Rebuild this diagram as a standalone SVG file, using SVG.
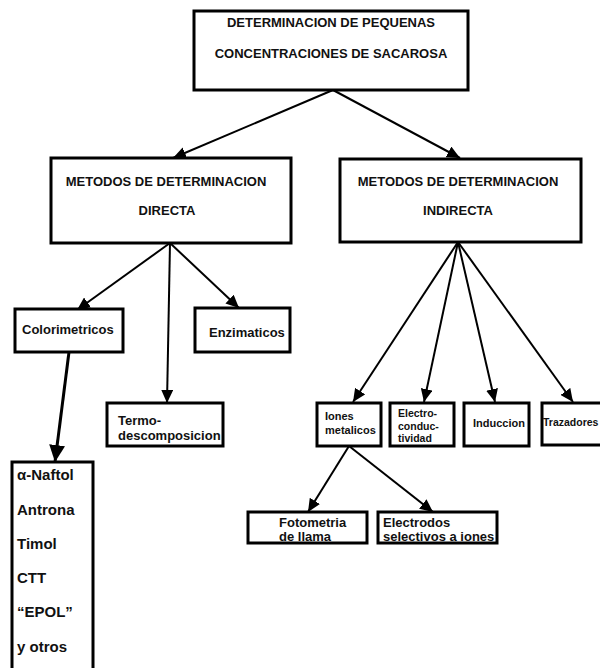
<svg xmlns="http://www.w3.org/2000/svg" width="600" height="668" viewBox="0 0 600 668">
<style>
.box{fill:#fff;stroke:#000;stroke-width:3}
.t{font-family:"Liberation Sans",Arial,sans-serif;font-weight:bold;fill:#111}
.big{font-size:13px}
.mid{font-size:13px}
.sm{font-size:11px}
.xs{font-size:10.5px}
.lst{font-size:15px}
.c{stroke:#000;stroke-width:2;fill:none}
.c3{stroke:#000;stroke-width:3;fill:none}
</style>
<defs>
<marker id="ah" markerUnits="userSpaceOnUse" markerWidth="14" markerHeight="12" refX="13" refY="6" orient="auto"><path d="M0,0 L13,6 L0,12 z" fill="#000"/></marker>
<marker id="ah2" markerUnits="userSpaceOnUse" markerWidth="18" markerHeight="16" refX="17" refY="8" orient="auto"><path d="M0,0 L17,8 L0,16 z" fill="#000"/></marker>
</defs>
<rect width="600" height="668" fill="#fff"/>
<g id="connectors">
<line class="c" x1="333" y1="90" x2="173" y2="158" marker-end="url(#ah)"/>
<line class="c" x1="333" y1="90" x2="460" y2="158" marker-end="url(#ah)"/>
<line class="c" x1="170" y1="243" x2="77" y2="310" marker-end="url(#ah)"/>
<line class="c" x1="170" y1="243" x2="167" y2="403" marker-end="url(#ah)"/>
<line class="c" x1="170" y1="243" x2="239" y2="308" marker-end="url(#ah)"/>
<line class="c3" x1="69" y1="352" x2="55" y2="462" marker-end="url(#ah2)"/>
<line class="c" x1="458" y1="242" x2="353" y2="402" marker-end="url(#ah)"/>
<line class="c" x1="458" y1="242" x2="424" y2="402" marker-end="url(#ah)"/>
<line class="c" x1="458" y1="242" x2="495" y2="402" marker-end="url(#ah)"/>
<line class="c" x1="458" y1="242" x2="573" y2="402" marker-end="url(#ah)"/>
<line class="c" x1="349" y1="446" x2="308" y2="512" marker-end="url(#ah)"/>
<line class="c" x1="349" y1="446" x2="433" y2="512" marker-end="url(#ah)"/>
</g>
<g id="root">
<rect class="box" x="194" y="11" width="274" height="79"/>
<text class="t big" x="331" y="27" text-anchor="middle">DETERMINACION DE PEQUENAS</text>
<text class="t big" x="331" y="58" text-anchor="middle">CONCENTRACIONES DE SACAROSA</text>
</g>
<g id="directa">
<rect class="box" x="51" y="158" width="240" height="85"/>
<text class="t big" x="166" y="186" text-anchor="middle">METODOS DE DETERMINACION</text>
<text class="t big" x="167" y="215" text-anchor="middle">DIRECTA</text>
</g>
<g id="indirecta">
<rect class="box" x="340" y="159" width="241" height="83"/>
<text class="t big" x="458" y="186" text-anchor="middle">METODOS DE DETERMINACION</text>
<text class="t big" x="458" y="215" text-anchor="middle">INDIRECTA</text>
</g>
<g id="colorimetricos">
<rect class="box" x="15" y="309" width="108" height="43"/>
<text class="t mid" x="22" y="334">Colorimetricos</text>
</g>
<g id="enzimaticos">
<rect class="box" x="195" y="308" width="95" height="44"/>
<text class="t mid" x="209" y="337">Enzimaticos</text>
</g>
<g id="termo">
<rect class="box" x="107" y="403" width="116" height="43"/>
<text class="t mid" x="118" y="425">Termo-</text>
<text class="t mid" x="118" y="440">descomposicion</text>
</g>
<g id="lista">
<rect class="box" x="12" y="462" width="81" height="212"/>
<text class="t lst" x="17" y="480">α-Naftol</text>
<text class="t lst" x="17" y="515">Antrona</text>
<text class="t lst" x="17" y="549">Timol</text>
<text class="t lst" x="17" y="583">CTT</text>
<text class="t lst" x="17" y="617">“EPOL”</text>
<text class="t lst" x="17" y="652">y otros</text>
</g>
<g id="iones">
<rect class="box" x="317" y="403" width="64" height="43"/>
<text class="t sm" x="325" y="420">Iones</text>
<text class="t sm" x="325" y="434">metalicos</text>
</g>
<g id="electroconductividad">
<rect class="box" x="390" y="403" width="64" height="43"/>
<text class="t xs" x="398" y="417">Electro-</text>
<text class="t xs" x="398" y="430">conduc-</text>
<text class="t xs" x="398" y="442">tividad</text>
</g>
<g id="induccion">
<rect class="box" x="464" y="403" width="65" height="43"/>
<text class="t sm" x="473" y="427">Induccion</text>
</g>
<g id="trazadores">
<rect class="box" x="542" y="403" width="70" height="42"/>
<text class="t xs" x="543" y="426">Trazadores</text>
</g>
<g id="fotometria">
<rect class="box" x="248" y="512" width="119" height="31"/>
<text class="t mid" x="279" y="527">Fotometria</text>
<text class="t mid" x="279" y="541">de llama</text>
</g>
<g id="electrodos">
<rect class="box" x="378" y="512" width="119" height="31"/>
<text class="t mid" x="383" y="527">Electrodos</text>
<text class="t mid" x="383" y="541">selectivos a iones</text>
</g>
</svg>
